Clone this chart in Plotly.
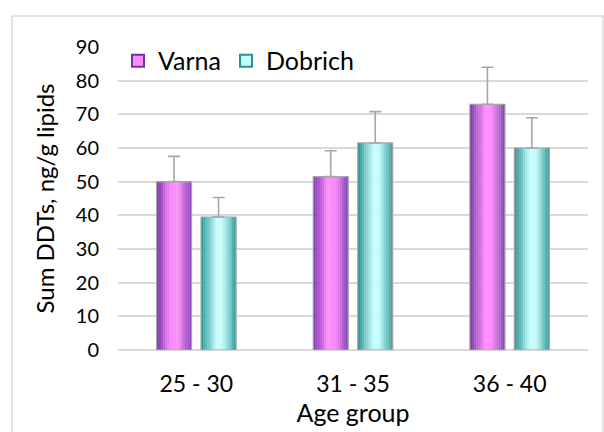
import plotly.graph_objects as go

# ---- data ----
age_groups = ["25 - 30", "31 - 35", "36 - 40"]
varna = [50.0, 51.5, 73.0]
varna_err = [7.5, 7.7, 11.0]
dobrich = [39.5, 61.5, 60.0]
dobrich_err = [5.8, 9.3, 9.0]

# ---- style ----
FONT = "Lato, Noto Sans, sans-serif"
BAR_W = 0.2236
OFFSETS = {"Varna": -0.254, "Dobrich": 0.030}
GRAD = {
    "Varna": [(0.0, (115, 50, 170)), (0.42, (255, 140, 255)), (0.62, (250, 140, 250)), (1.0, (130, 65, 180))],
    "Dobrich": [(0.0, (38, 145, 145)), (0.45, (200, 255, 255)), (0.62, (195, 250, 250)), (1.0, (50, 155, 155))],
}
N_STRIPS = 16


def interp(stops, t):
    for (t0, c0), (t1, c1) in zip(stops[:-1], stops[1:]):
        if t0 <= t <= t1:
            f = (t - t0) / (t1 - t0) if t1 > t0 else 0
            return "rgb(%d,%d,%d)" % tuple(round(a + (b - a) * f) for a, b in zip(c0, c1))
    return "rgb(%d,%d,%d)" % stops[-1][1]


fig = go.Figure()

series = [("Varna", varna, varna_err), ("Dobrich", dobrich, dobrich_err)]
for rank, (name, vals, errs) in enumerate(series):
    sw = BAR_W / N_STRIPS
    for i in range(N_STRIPS):
        t = (i + 0.5) / N_STRIPS
        fig.add_trace(go.Bar(
            x=age_groups, y=vals, name=name,
            offset=OFFSETS[name] + i * sw, width=sw * 1.08,
            marker=dict(color=interp(GRAD[name], t), line=dict(width=0)),
            showlegend=False, hoverinfo="skip",
        ))
    # outline + error bars
    fig.add_trace(go.Bar(
        x=age_groups, y=vals, name=name,
        offset=OFFSETS[name], width=BAR_W,
        marker=dict(color="rgba(0,0,0,0)", line=dict(color="#A8A8A8", width=1.2)),
        error_y=dict(type="data", array=errs, arrayminus=[0] * len(errs), symmetric=False,
                     color="#A6A6A6", thickness=1.6, width=6),
        showlegend=False,
    ))
    # legend entry
    fig.add_trace(go.Bar(
        x=[age_groups[0]], y=[None], name=name,
        marker=dict(color=interp(GRAD[name], 0.45), line=dict(color=interp(GRAD[name], 0.0), width=2)),
        showlegend=True, legendrank=rank + 1,
    ))

fig.update_layout(
    width=604, height=432,
    margin=dict(l=118, r=16, t=47, b=82),
    barmode="overlay",
    paper_bgcolor="white", plot_bgcolor="white",
    font=dict(family=FONT, size=20, color="#000000"),
    showlegend=True,
    legend=dict(orientation="h", x=0.0, y=1.03, xanchor="left", yanchor="top",
                font=dict(size=25), bgcolor="rgba(0,0,0,0)", itemwidth=30,
                tracegroupgap=0),
    xaxis=dict(showgrid=False, showline=False, ticks="", tickfont=dict(size=23),
               ticklabelstandoff=18, automargin=False,
               title=dict(text="Age group", font=dict(size=25), standoff=8)),
    yaxis=dict(range=[0, 90], dtick=10, showgrid=True, gridcolor="#D9D9D9", gridwidth=1.5,
               zeroline=True, zerolinecolor="#D9D9D9", zerolinewidth=1.5,
               showline=False, ticks="", tickfont=dict(size=20), ticklabelstandoff=18,
               automargin=False,
               title=dict(text="Sum DDTs, ng/g lipids", font=dict(size=24), standoff=14)),
    shapes=[dict(type="rect", xref="paper", yref="paper",
                 x0=-0.2255, x1=1.032, y0=-0.3, y1=1.102,
                 line=dict(color="#D9D9D9", width=1.5), fillcolor="rgba(0,0,0,0)", layer="below")],
)

fig.write_html("out.html", config={"displayModeBar": False},
               post_script="document.body.style.margin='0';document.body.style.padding='0';")
